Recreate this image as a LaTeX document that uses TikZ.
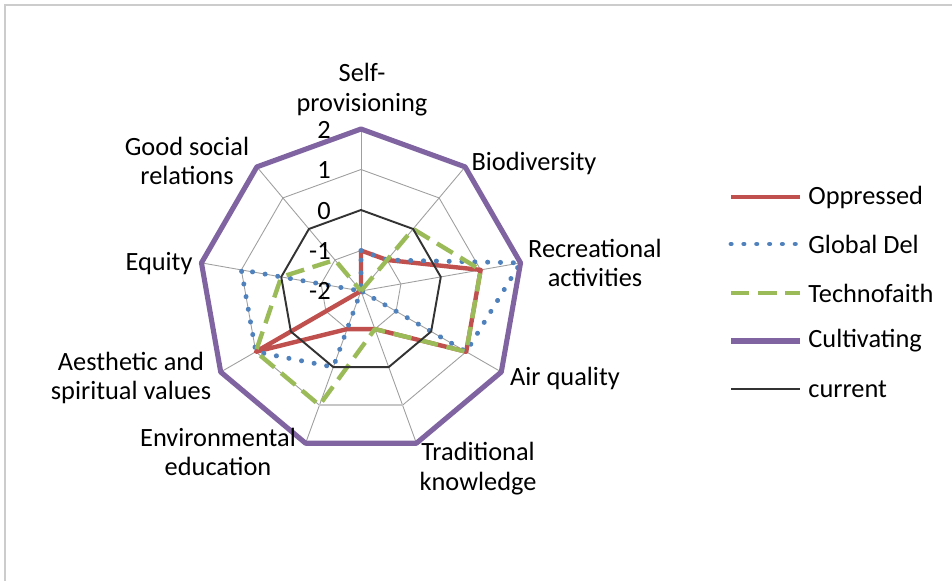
\documentclass[tikz,border=0pt]{standalone}
\usepackage{fontspec}
\setmainfont{Carlito}
\definecolor{oppred}{HTML}{C0504D}
\definecolor{globblue}{HTML}{4F81BD}
\definecolor{techgreen}{HTML}{9BBB59}
\definecolor{cultpurple}{HTML}{8064A2}
\definecolor{framegray}{HTML}{CCCCCC}
\tikzset{
  gridline/.style={gray!75,line width=0.5pt},
  oppressed/.style={oppred,line width=2.5pt,line join=round},
  globaldel/.style={globblue,line width=2.8pt,line cap=round,line join=round,dash pattern=on 0.1pt off 7.2pt},
  technofaith/.style={techgreen,line width=2.5pt,line join=round,dash pattern=on 10.5pt off 5pt},
  cultivating/.style={cultpurple,line width=2.9pt,line join=round},
  current/.style={black!80,line width=1.1pt},
  lbl/.style={align=center,font=\fontsize{15}{17}\selectfont,inner sep=0pt},
}
\begin{document}
\begin{tikzpicture}[x=0.02cm,y=0.02cm]
\useasboundingbox (0,0) rectangle (952,-581);
%frame
\draw[framegray,line width=1.2pt] (952,-5)--(5,-5)--(5,-581);
%radar, one unit = 40.5
\begin{scope}[shift={(361,-291)}]
\foreach \k in {0,...,8}
  \draw[gridline] (0,0)--(90-40*\k:162);
\foreach \r in {40.5,121.5,162}
  \draw[gridline] (90:\r) \foreach \k in {1,...,8}{--(90-40*\k:\r)} --cycle;
\draw[gray!45,line width=1.5pt] (-70:121.5)--(-110:121.5);
%series
\draw[oppressed] (90:40.5)--(50:40.5)--(10:121.5)--(-30:121.5)--(-70:40.5)--(-110:40.5)--(-150:121.5)--(170:0)--(130:0)--cycle;
\draw[globaldel] (90:40.5)--(50:40.5)--(10:162)--(-30:121.5)--(-70:0)--(-110:81)--(-150:121.5)--(170:121.5)--(130:0)--cycle;
\draw[technofaith] (90:0)--(50:81)--(10:121.5)--(-30:121.5)--(-70:40.5)--(-110:121.5)--(-150:121.5)--(170:81)--(130:40.5)--cycle;
\draw[cultivating] (90:162) \foreach \k in {1,...,8}{--(90-40*\k:162)} --cycle;
\draw[current] (90:81) \foreach \k in {1,...,8}{--(90-40*\k:81)} --cycle;
\end{scope}
%value ticks
\foreach \v/\y in {2/130,1/170,0/211,-1/251,-2/291}
  \node[lbl,anchor=east] (tick\v) at (331,-\y) {\v};
%axis labels
\node[lbl] (selfprov) at (362,-90) {Self-\\provisioning};
\node[lbl] (biodiv) at (534,-163) {Biodiversity};
\node[lbl] (recreation) at (595,-263) {Recreational\\activities};
\node[lbl] (airq) at (565,-378) {Air quality};
\node[lbl] (tradknow) at (478,-469) {Traditional\\knowledge};
\node[lbl] (enved) at (218,-452) {Environmental\\education};
\node[lbl] (aesthetic) at (131,-378) {Aesthetic and\\spiritual values};
\node[lbl] (equity) at (159,-264) {Equity};
\node[lbl] (goodsocial) at (187,-161) {Good social\\relations};
%legend
\foreach \s/\t/\y in {oppressed/Oppressed/197,globaldel/Global Del/244,technofaith/Technofaith/293,cultivating/Cultivating/341,current/current/389}{
  \draw[\s] (731,-\y)--(800,-\y);
  \node[lbl,anchor=west] (leg\s) at (808,-\y) {\t};
}
\end{tikzpicture}
\end{document}
